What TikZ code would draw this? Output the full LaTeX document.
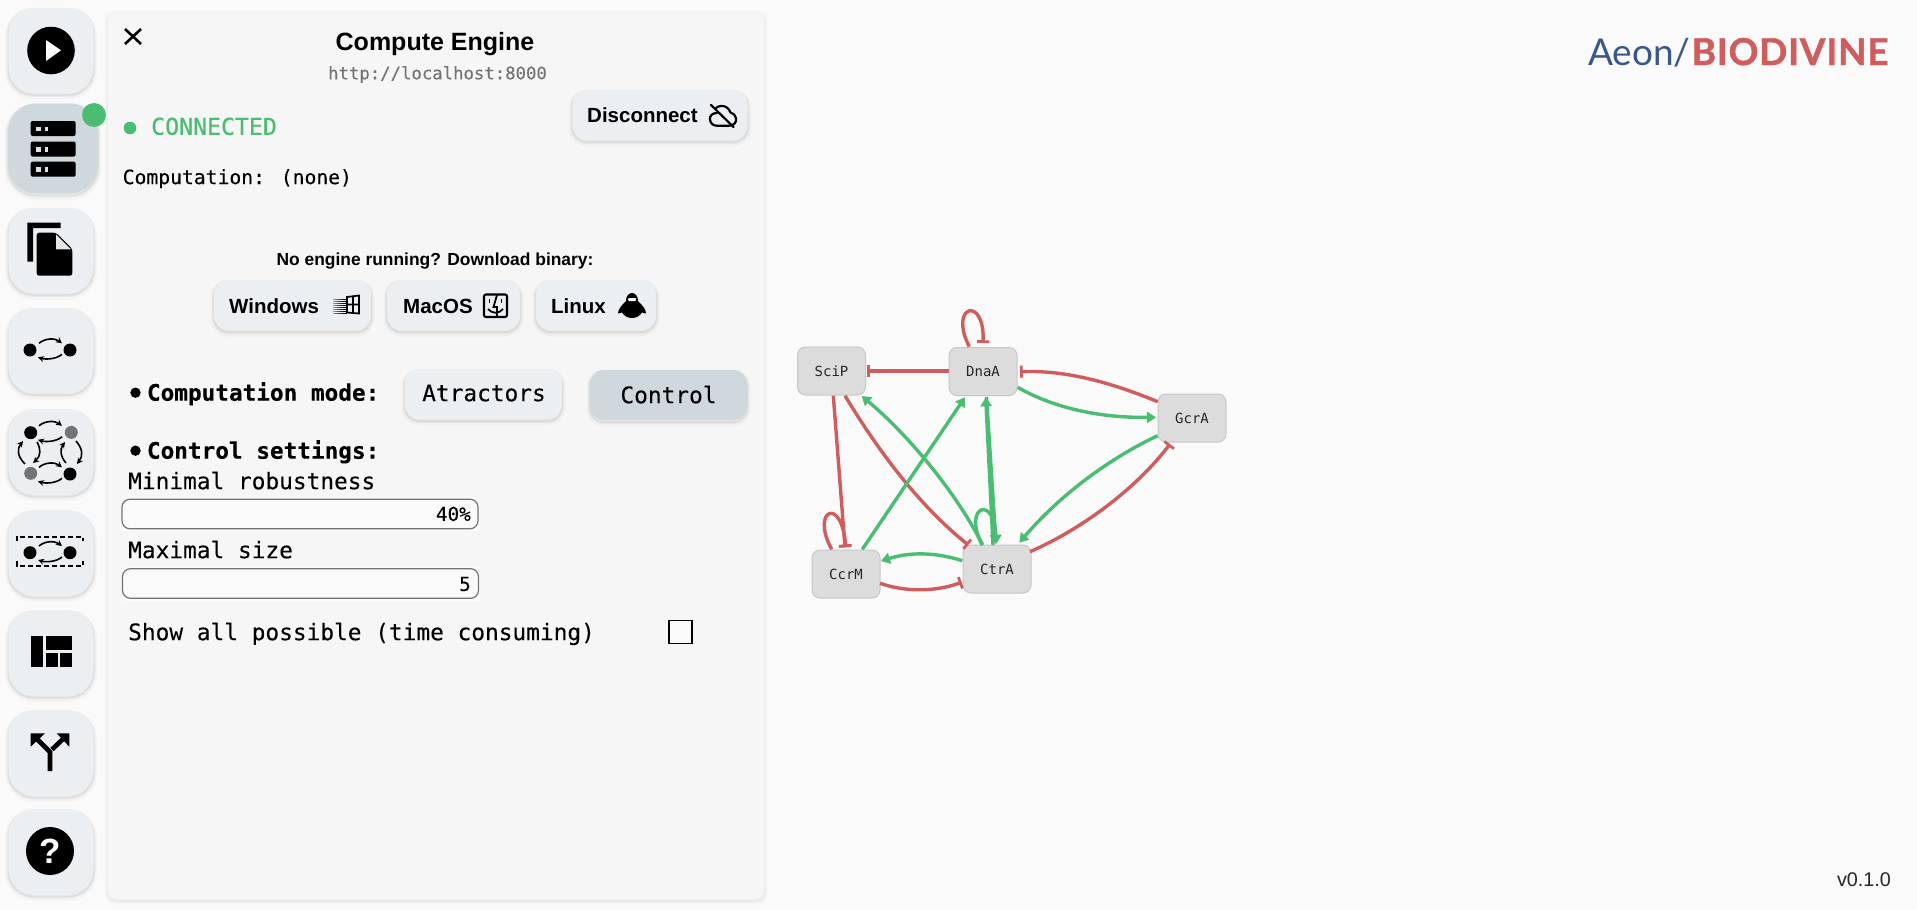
\documentclass[tikz,border=0pt]{standalone}
\usepackage{fontspec}
\setmainfont{Liberation Sans}
\newfontfamily\monof[FakeBold=0.15]{DejaVu Sans Mono}
\newfontfamily\monop{DejaVu Sans Mono}
\newfontfamily\monom[FakeBold=0.6]{DejaVu Sans Mono}
\newfontfamily\logof{Lato}
\newfontfamily\logob[UprightFont=* Bold,FakeBold=1.2,LetterSpace=2]{Lato}
\usetikzlibrary{arrows.meta,calc}
\definecolor{bgc}{HTML}{FAFAFA}
\definecolor{panelc}{HTML}{F6F6F6}
\definecolor{btnc}{HTML}{ECEFF1}
\definecolor{btnact}{HTML}{CFD8DC}
\definecolor{gr}{HTML}{4ABD73}
\definecolor{rd}{HTML}{D05D5D}
\definecolor{bl}{HTML}{3A568C}
\definecolor{nodec}{HTML}{DCDCDC}
\newcommand\fs[1]{\fontsize{#1}{#1}\selectfont}
\tikzset{
  softshadow/.style={
    preaction={draw=black,draw opacity=.025,line width=7pt,transform canvas={yshift=-3pt}},
    preaction={draw=black,draw opacity=.04,line width=4pt,transform canvas={yshift=-2pt}},
    preaction={draw=black,draw opacity=.05,line width=1.5pt,transform canvas={yshift=-2pt}}},
  sidebtn/.style={softshadow,fill=btnc,rounded corners=25pt,minimum width=85pt,minimum height=85pt,inner sep=0pt},
  smallbtn/.style={softshadow,fill=btnc,rounded corners=14pt,minimum height=50pt,inner sep=0pt},
  txt/.style={inner sep=0pt,text height=#1pt,text depth=0pt},
  boldui/.style={txt=14.8,font=\fs{20.5}\bfseries},
  mono/.style={txt=16.4,font=\fs{22.8}\monof},
  monob/.style={txt=16.4,font=\fs{22.7}\monof\bfseries},
  gene/.style={draw=black!22,fill=nodec,line width=1pt,rounded corners=8pt,minimum width=68pt,minimum height=48pt,inner sep=0pt,text=black!85,font=\fs{14}\monop},
  act/.style={draw=gr,line width=3.4pt,-{Triangle[length=9pt,width=11pt]}},
  inh/.style={draw=rd,line width=3.4pt,-{Bar[width=12pt,line width=2.8pt]}},
  slidebg/.style={fill=white!98!black,minimum height=34pt,inner sep=0pt},
  slider/.style={draw=black!55,fill=bgc,line width=1.2pt,rounded corners=8pt,minimum height=29.6pt,inner sep=0pt},
  arc/.style={line width=1.6pt,-{Stealth[length=6pt,width=6pt]}},
  garcs/.pic={
    \draw[arc] (-11,-6.7) .. controls (-5,-12) and (5,-12) .. (12,-6.7);
    \draw[arc] (12,4.3) .. controls (6,9.5) and (-5,9.5) .. (-12,7.3);
  }
}
\begin{document}
\begin{tikzpicture}[x=1pt,y=-1pt]
\useasboundingbox (0,0) rectangle (1917,910);
\fill[bgc] (0,0) rectangle (1917,910);
% panel
\node[draw=none,fill=panelc,rounded corners=8pt,minimum width=656pt,minimum height=887pt,inner sep=0pt,
  preaction={draw=black,draw opacity=.02,line width=7pt,transform canvas={yshift=-2pt}},
  preaction={draw=black,draw opacity=.04,line width=3pt,transform canvas={yshift=-2pt}}] (panel) at (436,455.5) {};
% sidebar buttons
\node[sidebtn] (bplay) at (51,50.5) {};
\node[sidebtn,fill=btnact,minimum width=90pt,minimum height=90pt,rounded corners=28pt] (bserver) at (53,148.5) {};
\node[sidebtn] (bfiles) at (51,250.5) {};
\node[sidebtn] (bgraph) at (51,350.5) {};
\node[sidebtn] (battr) at (51,452) {};
\node[sidebtn] (bdash) at (51,553) {};
\node[sidebtn] (blayout) at (51,653) {};
\node[sidebtn] (bfork) at (51,753) {};
\node[sidebtn] (bhelp) at (51,852) {};
\fill[gr] (94,115) circle (12);
% play
\fill (51,50.5) circle (23.8);
\fill[white] (46,40) -- (61,50.3) -- (46,61) -- cycle;
% server
\foreach \yy in {121,141.5,161.7}{
  \fill[rounded corners=2pt] (30.7,\yy) rectangle (75.7,\yy+15);
  \fill[white!88!black] (35.7,\yy+5.5) rectangle (40.7,\yy+10);
  \fill[white!88!black] (45.3,\yy+5.5) rectangle (47.7,\yy+10);
}
% files
\fill (27.3,222.7) -- (60.7,222.7) -- (60.7,228) -- (33,228) -- (33,261.7) -- (27.3,261.7) -- cycle;
\fill[rounded corners=2.5pt] (36.7,232.7) -- (56,232.7) -- (72.3,249) -- (72.3,275.7) -- (36.7,275.7) -- cycle;
\fill[white!90!black] (56,234.5) -- (71,249.3) -- (56,249.3) -- cycle;
% graph icon
\fill (30,350) circle (6.5);
\fill (70,350) circle (6.5);
\pic at (50,350) {garcs};
% attractor icon
\fill (30.7,432.7) circle (6.5);
\fill[black!55] (71.3,432.4) circle (6.5);
\fill[black!55] (30.7,473.3) circle (6.5);
\fill (70,474) circle (6.5);
\pic at (50,432.5) {garcs};
\pic at (50,474) {garcs};
\draw[arc] (25,464) .. controls (17,456) and (17,449) .. (23,441);
\draw[arc] (37,442) .. controls (41,449) and (41,456) .. (33,463);
\draw[arc] (66,463) .. controls (60,456) and (60,449) .. (65,442);
\draw[arc] (76,441) .. controls (83,449) and (83,456) .. (77,464);
% dashed icon
\fill (30,552.7) circle (6.5);
\fill (70,552.7) circle (6.5);
\pic at (50,552.7) {garcs};
\draw[line width=2pt,dash pattern=on 5pt off 3pt] (16.5,541) -- (16.5,536.5) -- (83,536.5) -- (83,541);
\draw[line width=2pt,dash pattern=on 5pt off 3pt] (16.5,561) -- (16.5,565.5) -- (83,565.5) -- (83,561);
% layout icon
\fill (30.7,636) rectangle (43,666.7);
\fill (45.7,636) rectangle (71.7,650);
\fill (45.7,653.3) rectangle (57.7,666.7);
\fill (60,653.3) rectangle (71.7,666.7);
% fork icon
\draw[line width=4.7pt] (50,771) -- (50,752) -- (37,739);
\draw[line width=4.7pt] (52,749.5) -- (63.5,738.5);
\fill (30.7,733.3) -- (45,733.3) -- (30.7,746.7) -- cycle;
\fill (69.3,733.3) -- (56.7,733.3) -- (69.3,746.7) -- cycle;
% help icon
\fill (50,851) circle (24);
\node[inner sep=0pt,text=white,font=\fs{35}\bfseries] (qm) at (50,851) {?};
% close
\draw[line width=2.6pt] (125,29) -- (141,44) (141,29) -- (125,44);
% header
\node[txt=18,font=\fs{25}\bfseries] (title) at (435,41) {Compute Engine};
\node[txt=12.6,font=\fs{17.3}\monof,text=black!55] (url) at (437.5,73) {http://localhost:8000};
\fill[gr] (130,128) circle (6.3);
\node[txt=16.6,anchor=west,font=\fs{23.2}\monom,text=gr] (conn) at (151,126.5) {CONNECTED};
\node[smallbtn,minimum width=175pt] (disc) at (660,115) {};
\node[boldui,anchor=west] (disct) at (587,115.5) {Disconnect};
\draw[line width=2.2pt,line cap=round,line join=round] (717,113) .. controls (712,113) and (709.5,116) .. (710,119.5) .. controls (710.5,123.5) and (713,125.7) .. (717,125.7) -- (729,125.7) .. controls (734,125.7) and (737,122) .. (736,118) .. controls (735.5,115) and (733,113) .. (730.5,112.5) .. controls (729,108) and (725,105.5) .. (721,106) .. controls (719,106) and (717,107) .. (716,108);
\draw[line width=2.2pt,line cap=round] (711,105) -- (733.5,127);
\node[txt=14.2,anchor=west,font=\fs{19.7}\monof] (comp) at (122.5,177) {Computation: (none)};
% download
\node[txt=12.6,font=\fs{17.4}\bfseries] (dl) at (435,259) {No engine running? Download binary:};
\node[smallbtn,minimum width=157pt] (win) at (292.5,305) {};
\node[smallbtn,minimum width=133pt] (mac) at (453.5,305) {};
\node[smallbtn,minimum width=120pt] (lin) at (596,305) {};
\node[boldui,anchor=west] (wint) at (229,306) {Windows};
\node[boldui,anchor=west] (mact) at (403,306) {MacOS};
\node[boldui,anchor=west] (lint) at (551,306) {Linux};
% windows icon
\foreach \xx/\op in {333/.35,335/.5,337/.65,339/.75,341/.85,343/.95,345/1}{
  \foreach \yy in {298.5,300.5,...,312.5}{
    \fill[opacity=\op] (\xx,\yy) rectangle (\xx+1.5,\yy+1.5);
  }
}
\draw[line width=1.7pt] (347,297) -- (359,295.5) -- (359,313.5) -- (347,312.5) -- cycle (353,296) -- (353,313) (347,304.5) -- (359,304.5);
% mac icon
\draw[line width=2.1pt,rounded corners=2pt] (484,294.5) rectangle (507,317);
\draw[line width=1.8pt] (497,295) -- (493.5,307) -- (497,307) -- (497,316);
\draw[line width=1.8pt] (489.5,299) -- (489.5,303) (501.5,299) -- (501.5,303);
\draw[line width=1.8pt] (488,309) .. controls (492,314) and (499,314) .. (503,309);
% penguin icon
\fill (632,293) .. controls (628,293) and (626,297) .. (626,301) .. controls (622,305) and (618,309) .. (618,313.5) -- (622,312.5) .. controls (624,316) and (628,318) .. (632,318) .. controls (636,318) and (640,316) .. (642,312.5) -- (646,313.5) .. controls (646,309) and (642,305) .. (638,301) .. controls (638,297) and (636,293) .. (632,293) -- cycle;
\fill[white,rounded corners=1pt] (628,298) rectangle (636,301);
% mode
\fill (135.5,392.7) circle (5.2);
\node[monob,anchor=west] (modet) at (146.8,392.5) {Computation mode:};
\node[smallbtn,minimum width=157pt] (attrb) at (483.5,394) {};
\node[smallbtn,minimum width=157pt,fill=btnact] (ctrlb) at (668.5,395) {};
\node[mono] (attrt) at (484,393) {Atractors};
\node[mono] (ctrlt) at (668.5,395) {Control};
% settings
\fill (135.5,450.7) circle (5.2);
\node[monob,anchor=west] (sett) at (146.8,450.5) {Control settings:};
\node[mono,anchor=west] (minr) at (128,481) {Minimal robustness};
\node[slidebg,minimum width=358pt] (s1bg) at (300,513.5) {};
\node[slider,minimum width=356pt] (s1) at (300,514) {};
\node[txt=13.9,anchor=east,font=\fs{19.3}\monof] (s1t) at (471,514) {40\%};
\node[mono,anchor=west] (maxs) at (128,550) {Maximal size};
\node[slidebg,minimum width=358pt] (s2bg) at (300.5,583.5) {};
\node[slider,minimum width=356pt] (s2) at (300.5,583.5) {};
\node[txt=13.9,anchor=east,font=\fs{19.3}\monof] (s2t) at (471,584) {5};
\node[mono,anchor=west] (showt) at (128,632) {Show all possible (time consuming)};
\node[draw=black,fill=bgc,line width=1.2pt,minimum width=23pt,minimum height=22.3pt,inner sep=0pt] (chk) at (680.5,632) {};
% logo
\node[anchor=base west,inner sep=0pt,font=\fs{37}\logof,text=bl] (aeon) at (1588,65) {Aeon/};
\node[anchor=base west,inner sep=0pt,font=\fs{37}\logob,text=rd] (bio) at (1691.5,65) {BIODIVINE};
\node[txt=14.3,text=black!85,font=\fs{19.8}] (ver) at (1864,879) {v0.1.0};
% genes
\node[gene] (SciP) at (831.5,371) {SciP};
\node[gene] (DnaA) at (983,371.5) {DnaA};
\node[gene] (GcrA) at (1192,418) {GcrA};
\node[gene] (CcrM) at (846,574) {CcrM};
\node[gene] (CtrA) at (997,569) {CtrA};
% edges
\draw[inh] ($(DnaA)+(-34,-0.5)$) -- ($(SciP)+(35.8,0)$);
\draw[inh] ($(DnaA)+(-13.7,-24.8)$) .. controls (948,305) and (985,295) .. ($(DnaA)+(0,-28.5)$);
\draw[inh] ($(GcrA)+(-34.3,-16.3)$) .. controls (1110,382) and (1065,370) .. ($(DnaA)+(37,0.2)$);
\draw[act] ($(DnaA)+(34.7,15.8)$) .. controls (1050,406) and (1095,418) .. ($(GcrA)+(-36,-0.7)$);
\draw[act] ($(GcrA)+(-34.3,17.7)$) .. controls (1110,458) and (1060,495) .. ($(CtrA)+(22.3,-26.3)$);
\draw[inh] ($(CtrA)+(33,-17.3)$) .. controls (1080,530) and (1135,490) .. ($(GcrA)+(-22,26)$);
\draw[inh] ($(SciP)+(1.8,24.7)$) -- ($(CcrM)+(-1,-26.7)$);
\draw[inh] ($(SciP)+(13.5,24.7)$) .. controls (885,462) and (925,510) .. ($(CtrA)+(-28.7,-24)$);
\draw[act] ($(CtrA)+(-14.3,-24)$) .. controls (955,490) and (905,432) .. ($(SciP)+(30.2,25)$);
\draw[act] ($(CcrM)+(16.3,-24.7)$) -- ($(DnaA)+(-18,25.8)$);
\draw[act] ($(CtrA)+(-4,-24)$) -- ($(DnaA)+(2.7,25.8)$);
\draw[act] ($(DnaA)+(3.5,25.5)$) -- ($(CtrA)+(-1,-25)$);
\draw[act] ($(CtrA)+(-15,-24)$) .. controls (962,505) and (995,495) .. ($(CtrA)+(-1,-25)$);
\draw[inh] ($(CcrM)+(-14.3,-24.7)$) .. controls (810,510) and (842,495) .. ($(CcrM)+(-0.3,-26.7)$);
\draw[act] ($(CtrA)+(-34.7,-8.3)$) .. controls (935,552) and (910,552) .. ($(CcrM)+(35,-13)$);
\draw[inh] ($(CcrM)+(34,9.3)$) .. controls (905,592) and (935,592) .. ($(CtrA)+(-35.3,13.3)$);
\end{tikzpicture}
\end{document}
